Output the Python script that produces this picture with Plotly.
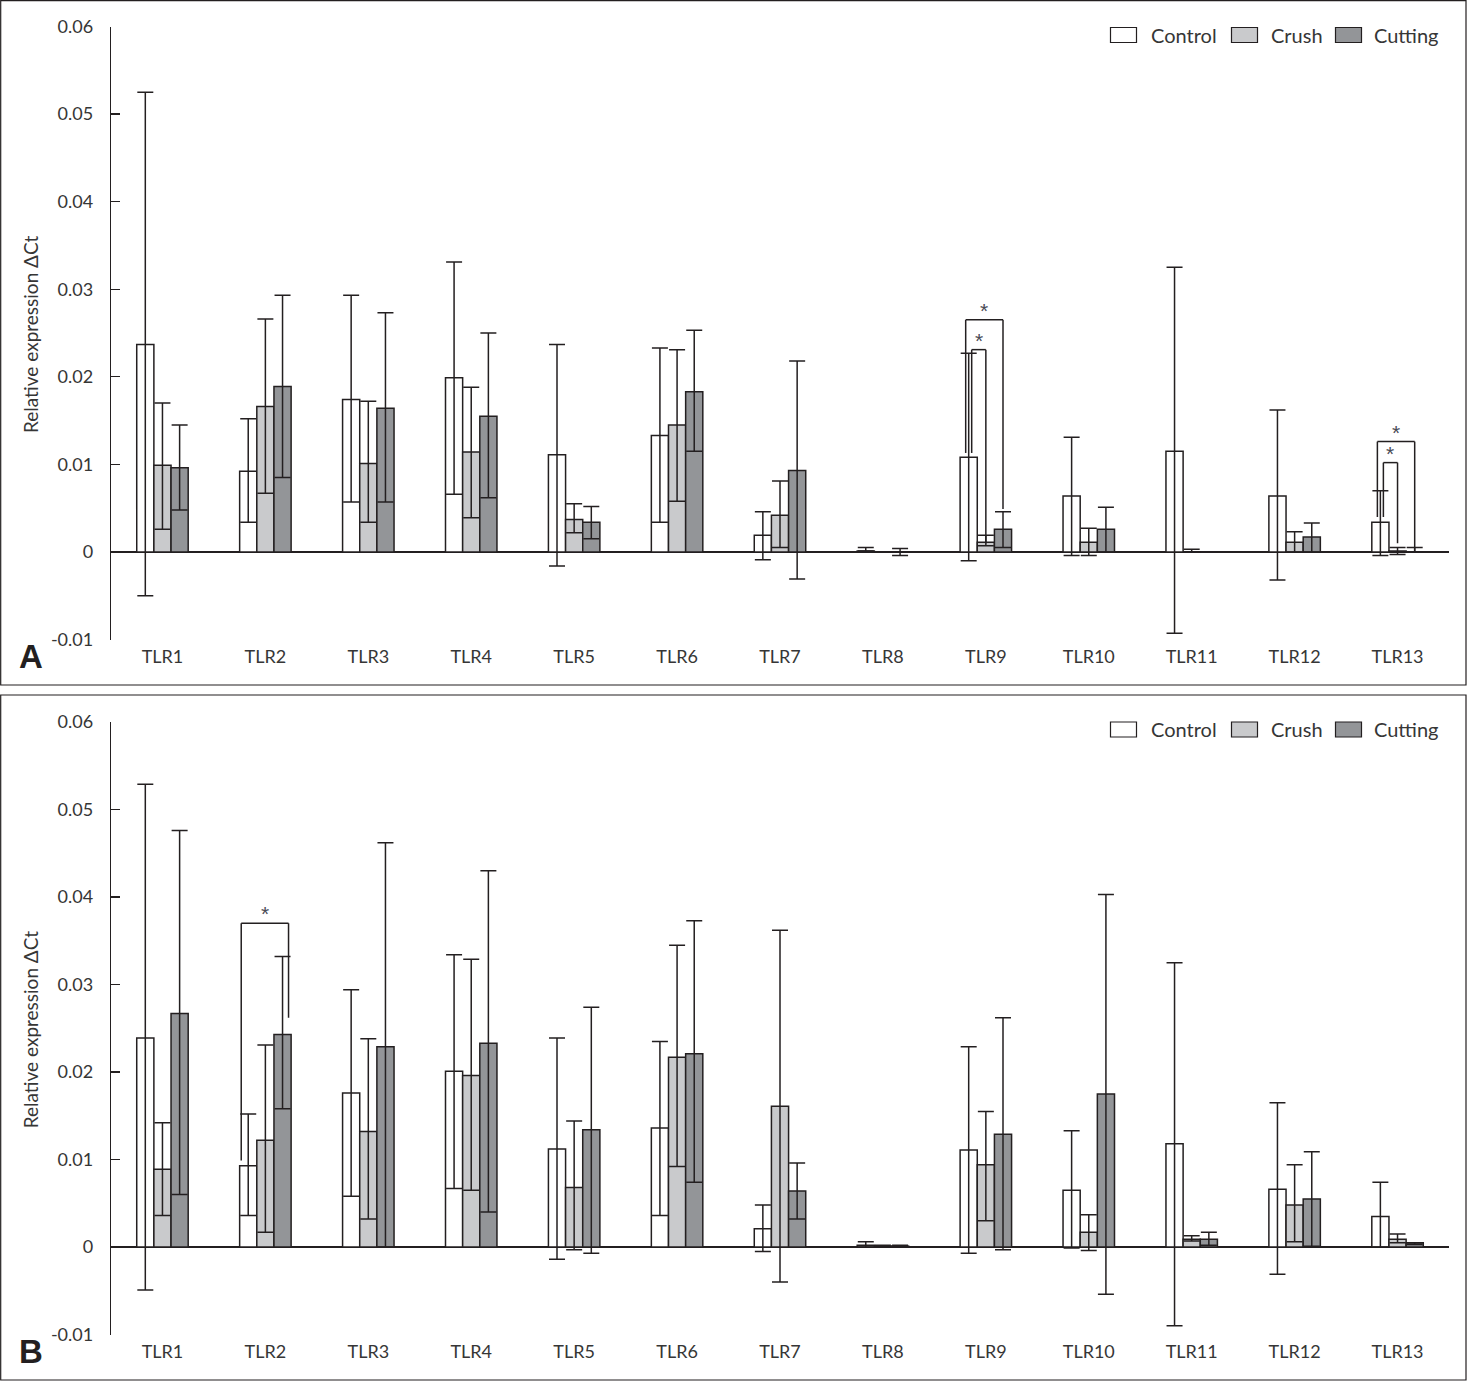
import plotly.graph_objects as go

# ---------------- data ----------------
categories = ["TLR1", "TLR2", "TLR3", "TLR4", "TLR5", "TLR6", "TLR7",
              "TLR8", "TLR9", "TLR10", "TLR11", "TLR12", "TLR13"]
series_names = ["Control", "Crush", "Cutting"]

# Panel A
A_control = [0.0237, 0.0092, 0.0174, 0.0199, 0.0111, 0.0133, 0.0019, 0.0001, 0.0108, 0.0064, 0.0115, 0.0064, 0.0034]
A_control_up = [0.0288, 0.0060, 0.0119, 0.0132, 0.0126, 0.0100, 0.0027, 0.0004, 0.0119, 0.0067, 0.0210, 0.0098, 0.0036]
A_control_dn = [0.0287, 0.0058, 0.0117, 0.0133, 0.0127, 0.0099, 0.0028, 0.0000, 0.0118, 0.0068, 0.0208, 0.0096, 0.0038]

A_crush = [0.0099, 0.0166, 0.0101, 0.0114, 0.0037, 0.0145, 0.0042, 0.0000, 0.0011, 0.0011, 0.0000, 0.0011, 0.0001]
A_crush_up = [0.0071, 0.0100, 0.0071, 0.0074, 0.0018, 0.0086, 0.0039, 0.0000, 0.0008, 0.0016, 0.0003, 0.0012, 0.0004]
A_crush_dn = [0.0073, 0.0099, 0.0067, 0.0075, 0.0015, 0.0087, 0.0037, 0.0000, 0.0004, 0.0015, 0.0000, 0.0011, 0.0004]

A_cutting = [0.0096, 0.0189, 0.0164, 0.0155, 0.0034, 0.0183, 0.0093, 0.0000, 0.0026, 0.0026, 0.0000, 0.0017, 0.0000]
A_cutting_up = [0.0049, 0.0104, 0.0109, 0.0095, 0.0018, 0.0070, 0.0125, 0.0004, 0.0020, 0.0025, 0.0000, 0.0016, 0.0005]
A_cutting_dn = [0.0048, 0.0104, 0.0107, 0.0093, 0.0019, 0.0068, 0.0124, 0.0004, 0.0021, 0.0026, 0.0000, 0.0017, 0.0000]

# Panel B
B_control = [0.0239, 0.0093, 0.0176, 0.0201, 0.0112, 0.0136, 0.0021, 0.0002, 0.0111, 0.0065, 0.0118, 0.0066, 0.0035]
B_control_up = [0.0290, 0.0059, 0.0118, 0.0133, 0.0127, 0.0099, 0.0027, 0.0004, 0.0118, 0.0068, 0.0207, 0.0099, 0.0039]
B_control_dn = [0.0288, 0.0057, 0.0118, 0.0134, 0.0126, 0.0100, 0.0026, 0.0002, 0.0118, 0.0066, 0.0208, 0.0097, 0.0035]

B_crush = [0.0089, 0.0122, 0.0132, 0.0196, 0.0068, 0.0217, 0.0161, 0.0001, 0.0094, 0.0017, 0.0009, 0.0048, 0.0009]
B_crush_up = [0.0053, 0.0109, 0.0106, 0.0133, 0.0076, 0.0128, 0.0201, 0.0001, 0.0061, 0.0020, 0.0004, 0.0046, 0.0006]
B_crush_dn = [0.0053, 0.0105, 0.0100, 0.0131, 0.0071, 0.0125, 0.0201, 0.0001, 0.0064, 0.0021, 0.0002, 0.0042, 0.0004]

B_cutting = [0.0267, 0.0243, 0.0229, 0.0233, 0.0134, 0.0221, 0.0064, 0.0001, 0.0129, 0.0175, 0.0009, 0.0055, 0.0005]
B_cutting_up = [0.0209, 0.0089, 0.0233, 0.0197, 0.0140, 0.0152, 0.0032, 0.0001, 0.0133, 0.0228, 0.0008, 0.0054, 0.0000]
B_cutting_dn = [0.0207, 0.0085, 0.0229, 0.0193, 0.0141, 0.0147, 0.0032, 0.0001, 0.0132, 0.0229, 0.0007, 0.0054, 0.0002]

# significance brackets: (category index, compared group index, bracket top, left leg bottom, right leg bottom)
A_sig = [(8, 1, 0.0231, 0.0113, 0.0010),
         (8, 2, 0.0265, 0.0113, 0.0049),
         (12, 1, 0.0102, 0.0040, 0.0010),
         (12, 2, 0.0126, 0.0040, 0.0000)]
B_sig = [(1, 2, 0.0370, 0.0099, 0.0262)]

y_tickvals = [0.06, 0.05, 0.04, 0.03, 0.02, 0.01, 0, -0.01]
y_ticktext = ["0.06", "0.05", "0.04", "0.03", "0.02", "0.01", "0", "-0.01"]

# ---------------- style ----------------
W, H = 1467, 1381
fills = ["#ffffff", "#c9cacc", "#939598"]
ink = "#231f20"
txt = "#363636"
FONT = "Lato"
BARGAP = 0.5
bw = (1 - BARGAP) / 3.0  # bar width in category units
px_per_cat = (1449 - 111) / 13.0


def fx(p):
    return p / W


def fy(p):
    return 1 - p / H


panels = [
    dict(name="A", xa="x", ya="y", top=26.5, bot=639.5, frame=(0.7, 685),
         data=[(A_control, A_control_up, A_control_dn),
               (A_crush, A_crush_up, A_crush_dn),
               (A_cutting, A_cutting_up, A_cutting_dn)],
         sig=A_sig, legend_y=35),
    dict(name="B", xa="x2", ya="y2", top=722, bot=1334.5, frame=(695, 1380),
         data=[(B_control, B_control_up, B_control_dn),
               (B_crush, B_crush_up, B_crush_dn),
               (B_cutting, B_cutting_up, B_cutting_dn)],
         sig=B_sig, legend_y=729.5),
]

fig = go.Figure()
shapes = []
annotations = []

for p in panels:
    for k, (vals, up, dn) in enumerate(p["data"]):
        fig.add_trace(go.Bar(
            x=categories, y=vals, name=series_names[k],
            xaxis=p["xa"], yaxis=p["ya"], showlegend=False,
            marker=dict(color=fills[k], line=dict(color=ink, width=1.5)),
            error_y=dict(type="data", symmetric=False, array=up, arrayminus=dn,
                         color=ink, thickness=1.5, width=8),
        ))

    xref, yref = p["xa"], p["ya"]
    # significance brackets
    for (ci, g, top, lb, rb) in p["sig"]:
        x_ctrl = ci - bw
        x_tgt = ci + (g - 1) * bw
        if p["name"] == "A":
            lnudge = (3 if g == 1 else -3) / px_per_cat
            rnudge = 0
        else:
            lnudge = -7 / px_per_cat
            rnudge = 6 / px_per_cat
        xl = x_ctrl + lnudge
        xr = x_tgt + rnudge
        seg = dict(type="line", xref=xref, yref=yref, line=dict(color=ink, width=1.5))
        shapes.append(dict(seg, x0=xl, x1=xl, y0=lb, y1=top))
        shapes.append(dict(seg, x0=xl, x1=xr, y0=top, y1=top))
        shapes.append(dict(seg, x0=xr, x1=xr, y0=top, y1=rb))
        annotations.append(dict(text="*", x=(xl + xr) / 2, y=top, xref=xref, yref=yref,
                                yanchor="bottom", yshift=-4, showarrow=False,
                                font=dict(family="Liberation Sans", size=21, color="#4a4a55")))

    # frame
    shapes.append(dict(type="rect", xref="paper", yref="paper",
                       x0=fx(0.7), x1=fx(1466), y0=fy(p["frame"][1]), y1=fy(p["frame"][0]),
                       line=dict(color=ink, width=1.2), fillcolor="rgba(0,0,0,0)"))

    # custom legend (wide swatches)
    ly = p["legend_y"]
    sw_x = [1110.5, 1231.5, 1335.5]
    tx_x = [1149, 1269, 1372]
    for k in range(3):
        shapes.append(dict(type="rect", xref="paper", yref="paper",
                           x0=fx(sw_x[k]), x1=fx(sw_x[k] + 26), y0=fy(ly + 7.5), y1=fy(ly - 7.5),
                           line=dict(color=ink, width=1.2), fillcolor=fills[k]))
        annotations.append(dict(text=series_names[k], x=fx(tx_x[k]), y=fy(ly), xref="paper", yref="paper",
                                xanchor="left", yanchor="middle", showarrow=False,
                                font=dict(family=FONT, size=20, color=txt)))

    # axis title
    annotations.append(dict(text="Relative expression ΔCt", x=fx(30), y=fy((p["top"] + p["bot"]) / 2 + 2),
                            xref="paper", yref="paper", textangle=-90, showarrow=False,
                            xanchor="center", yanchor="middle",
                            font=dict(family=FONT, size=19, color=txt)))
    # panel letter
    annotations.append(dict(text="<b>%s</b>" % p["name"], x=fx(31), y=fy(p["bot"] + 17),
                            xref="paper", yref="paper", showarrow=False,
                            xanchor="center", yanchor="middle",
                            font=dict(family="Liberation Sans", size=33, color=ink)))

xdom = [fx(111), fx(1449)]
common_x = dict(domain=xdom, range=[-0.5, 12.5], showline=False, showgrid=False, zeroline=False,
                ticks="", automargin=False,
                tickfont=dict(family=FONT, size=18, color=txt), ticklabelstandoff=4)
common_y = dict(range=[-0.01, 0.06], tickvals=y_tickvals, ticktext=y_ticktext,
                showline=True, linecolor=ink, linewidth=1.2, showgrid=False,
                zeroline=True, zerolinecolor=ink, zerolinewidth=1.2, automargin=False,
                ticks="inside", ticklen=9, tickwidth=1.2, tickcolor=ink,
                tickfont=dict(family=FONT, size=18, color=txt), ticklabelstandoff=13)

fig.update_layout(
    width=W, height=H, autosize=False,
    margin=dict(l=0, r=0, t=0, b=0, pad=0),
    paper_bgcolor="white", plot_bgcolor="white",
    barmode="group", bargap=BARGAP, bargroupgap=0,
    xaxis=dict(common_x, anchor="y"),
    yaxis=dict(common_y, anchor="x", domain=[fy(639.5), fy(26.5)]),
    xaxis2=dict(common_x, anchor="y2"),
    yaxis2=dict(common_y, anchor="x2", domain=[fy(1334.5), fy(722)]),
    shapes=shapes, annotations=annotations,
    showlegend=False,
)

fig.write_html("out.html",
               config={"displayModeBar": False, "staticPlot": True},
               post_script="document.body.style.margin='0';document.body.style.overflow='hidden';")
